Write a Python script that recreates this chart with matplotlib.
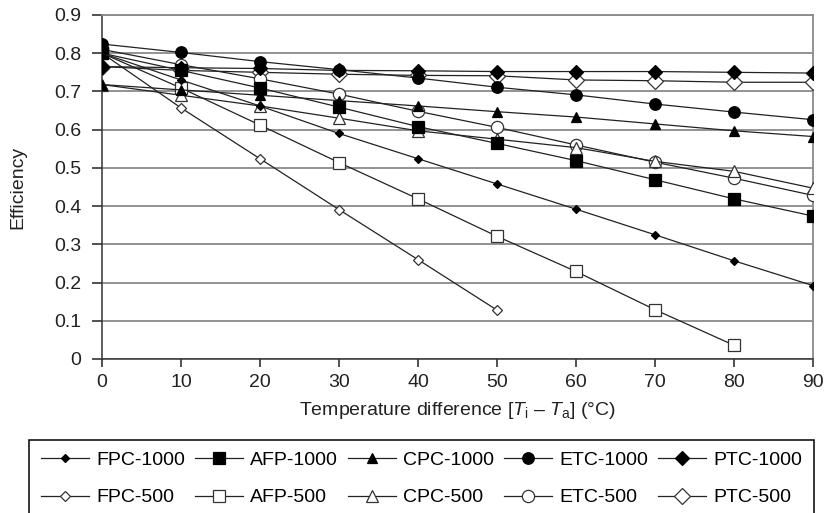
import matplotlib
matplotlib.use("Agg")
import matplotlib.pyplot as plt

plt.rcParams['font.family'] = ['Liberation Sans', 'DejaVu Sans']
plt.rcParams['mathtext.fontset'] = 'custom'
plt.rcParams['mathtext.rm'] = 'Liberation Sans'
plt.rcParams['mathtext.it'] = 'Liberation Sans:italic'

# temperature difference Ti - Ta (degC)
temp_diff = [0, 10, 20, 30, 40, 50, 60, 70, 80, 90]

# efficiency at 1000 W/m2
fpc_1000 = [0.800, 0.730, 0.662, 0.590, 0.524, 0.458, 0.392, 0.325, 0.257, 0.192]
afp_1000 = [0.800, 0.755, 0.709, 0.659, 0.608, 0.564, 0.519, 0.469, 0.419, 0.374]
cpc_1000 = [0.718, 0.704, 0.690, 0.676, 0.662, 0.647, 0.633, 0.615, 0.597, 0.582]
etc_1000 = [0.824, 0.802, 0.778, 0.757, 0.735, 0.711, 0.691, 0.667, 0.646, 0.626]
ptc_1000 = [0.765, 0.762, 0.760, 0.755, 0.754, 0.752, 0.752, 0.752, 0.750, 0.748]

# efficiency at 500 W/m2
fpc_500 = [0.800, 0.657, 0.524, 0.391, 0.260, 0.128]
afp_500 = [0.800, 0.709, 0.612, 0.514, 0.419, 0.321, 0.229, 0.129, 0.036]
cpc_500 = [0.718, 0.690, 0.662, 0.630, 0.597, 0.575, 0.553, 0.517, 0.491, 0.447]
etc_500 = [0.810, 0.770, 0.733, 0.693, 0.648, 0.606, 0.560, 0.515, 0.473, 0.428]
ptc_500 = [0.765, 0.755, 0.750, 0.745, 0.742, 0.741, 0.730, 0.728, 0.724, 0.724]

# name, values, marker, size, filled
series = [
    ("FPC-1000", fpc_1000, "D", 3.8, True),
    ("AFP-1000", afp_1000, "s", 8.3, True),
    ("CPC-1000", cpc_1000, "^", 7.5, True),
    ("ETC-1000", etc_1000, "o", 8.3, True),
    ("PTC-1000", ptc_1000, "D", 7.5, True),
    ("FPC-500", fpc_500, "D", 4.8, False),
    ("AFP-500", afp_500, "s", 9.3, False),
    ("CPC-500", cpc_500, "^", 8.5, False),
    ("ETC-500", etc_500, "o", 8.8, False),
    ("PTC-500", ptc_500, "D", 8.3, False),
]

FS = 14

fig = plt.figure(figsize=(8.25, 5.13), dpi=100)
ax = fig.add_axes([0.1236, 0.3002, 0.8618, 0.6706])

handles = {}
n = len(series)
for i, (name, vals, mk, ms, filled) in enumerate(series):
    x = temp_diff[:len(vals)]
    line, = ax.plot(x, vals, color="#222222", lw=0.9,
                    marker=mk, markersize=ms,
                    markerfacecolor="black" if filled else "white",
                    markeredgecolor="black" if filled else "#333333",
                    markeredgewidth=0.9,
                    label=name, zorder=10 + (n - i))
    handles[name] = line

ax.set_xlim(0, 90)
ax.set_ylim(0, 0.9)
ax.set_xticks(temp_diff)
ax.set_yticks([i / 10 for i in range(10)])
ax.set_yticklabels(["0"] + ["%.1f" % (i / 10) for i in range(1, 10)])

ax.yaxis.grid(True, color="#8a8a8a", lw=1.3)
ax.set_axisbelow(True)
for s in ["top", "right"]:
    ax.spines[s].set_color("#8a8a8a")
    ax.spines[s].set_linewidth(1.3)
for s in ["left", "bottom"]:
    ax.spines[s].set_color("#333333")
    ax.spines[s].set_linewidth(1.1)

ax.tick_params(axis="both", labelsize=FS, colors="#222222", width=1.1)
ax.tick_params(axis="x", length=6, pad=5)
ax.tick_params(axis="y", length=7, pad=8)

ax.set_xlabel(r"Temperature difference [$T_{\rm i}$ – $T_{\rm a}$] (°C)",
              fontsize=FS, color="#222222", labelpad=6)
ax.set_ylabel("Efficiency", fontsize=FS, color="#222222", labelpad=20)

# legend fills column-wise, so interleave 1000 and 500 entries
order = []
for kind in ["FPC", "AFP", "CPC", "ETC", "PTC"]:
    order += [kind + "-1000", kind + "-500"]
leg = fig.legend([handles[k] for k in order], order, ncol=5,
                 loc="upper left", bbox_to_anchor=(29 / 825, 1 - 440 / 513),
                 borderaxespad=0, fontsize=FS, handlelength=2.5,
                 handletextpad=0.35, columnspacing=0.5, labelspacing=1.0,
                 frameon=True, fancybox=False, edgecolor="black",
                 framealpha=1, borderpad=0.6)
leg.get_frame().set_linewidth(1.1)

fig.savefig("out.png", dpi=100)
